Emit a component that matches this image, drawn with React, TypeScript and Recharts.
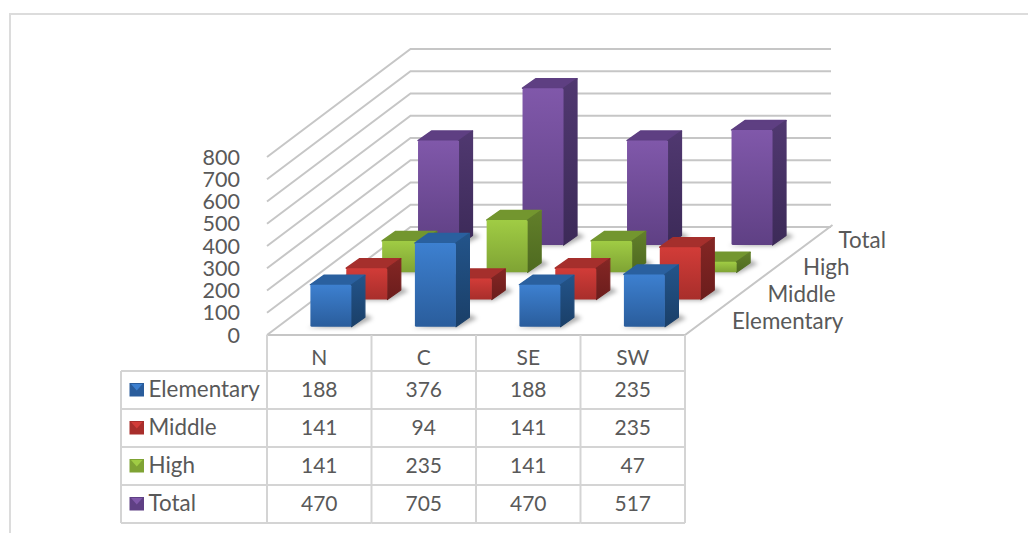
import { Bar, BarChart, CartesianGrid, XAxis, YAxis } from 'recharts';

const categories = ['N', 'C', 'SE', 'SW'];
const seriesNames = ['Elementary', 'Middle', 'High', 'Total'];
const elementary = [188, 376, 188, 235];
const middle = [141, 94, 141, 235];
const high = [141, 235, 141, 47];
const total = [470, 705, 470, 517];
const valueTicks = [0, 100, 200, 300, 400, 500, 600, 700, 800];

const seriesValues = [elementary, middle, high, total];

const palette = [
  { light: '#3d80d0', dark: '#2a5d9c', top: '#2a609f', sideLight: '#23548a', sideDark: '#1a3f68' },
  { light: '#d23c38', dark: '#a82e2b', top: '#a52f2c', sideLight: '#842624', sideDark: '#6b1d1c' },
  { light: '#a0cc44', dark: '#7fa334', top: '#73962f', sideLight: '#627f2a', sideDark: '#4e6a20' },
  { light: '#8058aa', dark: '#5f4084', top: '#5e3f82', sideLight: '#503870', sideDark: '#3c2a58' },
];

const chartData = categories.map((name, i) => {
  const row: Record<string, string | number> = { name };
  seriesNames.forEach((s, j) => {
    row[s] = seriesValues[j][i];
  });
  return row;
});

const WIDTH = 1028;
const HEIGHT = 533;
const PLOT_LEFT = 267;
const PLOT_RIGHT = 685;
const PLOT_TOP = 157;
const FLOOR_Y = 335;
const BAND = (PLOT_RIGHT - PLOT_LEFT) / 4;
const BAR_WIDTH = 41;

// oblique projection of the depth axis
const DEPTH_X = 143.5;
const DEPTH_Y = 108;
const WALL_RIGHT = 831;
const ROW_X = DEPTH_X / 4;
const ROW_Y = 27.2;
const BAR_DEPTH_X = 13.5;
const BAR_DEPTH_Y = 9.5;
const FRONT_SHIFT_X = 11.4;
const FRONT_SHIFT_Y = 8.3;

const TEXT = '#595959';
const FONT = 'Lato, sans-serif';
const LABEL_SIZE = 22.4;
const NUMBER_SIZE = 21;
const LINE = '#d4d4d4';
const GRID = '#c6c6c6';

const TABLE_LEFT = 121;
const ROW_LINES = [371, 409, 447, 485, 523];
const HEADER_Y = 358;

function GridLine(props: any) {
  const { x1, y1, y, height } = props;
  const backX = x1 + DEPTH_X;
  const backY = y1 - DEPTH_Y;
  const isFloor = Math.abs(y1 - (y + height)) < 0.5;
  return (
    <g fill="none" stroke={GRID} strokeWidth={2}>
      <polyline points={`${x1},${y1} ${backX},${backY} ${WALL_RIGHT},${backY}`} />
      {isFloor && (
        <>
          <polyline
            points={`${x1},${y1} ${PLOT_RIGHT},${y1} ${PLOT_RIGHT + DEPTH_X + 4},${y1 - DEPTH_Y - 2}`}
          />
          {seriesNames.map((name, i) => (
            <text
              key={name}
              x={732 + i * 35.5}
              y={321 - i * 27}
              dy="0.35em"
              fill={TEXT}
              stroke="none"
              fontFamily={FONT}
              fontSize={LABEL_SIZE}
            >
              {name}
            </text>
          ))}
        </>
      )}
    </g>
  );
}

// One cuboid, set back on the floor according to its series row
function Cuboid(props: any) {
  const { x, y, width, height, row } = props;
  const c = palette[row];
  const left = x + FRONT_SHIFT_X + row * ROW_X;
  const right = left + width;
  const top = y - FRONT_SHIFT_Y - row * ROW_Y;
  const base = top + height;
  const dx = BAR_DEPTH_X;
  const dy = BAR_DEPTH_Y;
  return (
    <g strokeLinejoin="round">
      <polygon
        points={`${left - 3},${base + 1} ${right + 2},${base + 1} ${right + dx + 8},${base - dy + 1} ${right + dx},${base - dy - 3}`}
        fill="rgba(0,0,0,0.32)"
        filter="url(#barShadow)"
      />
      <polygon
        points={`${left},${top} ${left + dx},${top - dy} ${right + dx},${top - dy} ${right},${top}`}
        fill={c.top}
        stroke={c.top}
        strokeWidth={1.5}
      />
      <polygon
        points={`${right},${top} ${right + dx},${top - dy} ${right + dx},${base - dy} ${right},${base}`}
        fill={`url(#side${row})`}
        stroke={`url(#side${row})`}
        strokeWidth={1.2}
      />
      <rect x={left} y={top} width={width} height={height} rx={1.5} fill={`url(#front${row})`} />
    </g>
  );
}

function LegendKey({ x, y, row }: { x: number; y: number; row: number }) {
  const c = palette[row];
  return (
    <g>
      <rect x={x} y={y} width={14.5} height={13.5} fill={c.dark} />
      <polygon points={`${x + 1.5},${y + 1} ${x + 13},${y + 1} ${x + 7.25},${y + 7.5}`} fill={c.light} />
    </g>
  );
}

// Category label and its column of the data table, hung from the x axis ticks
function TableColumn(props: any) {
  const { x, index, payload } = props;
  const colLeft = x - BAND / 2;
  const colRight = x + BAND / 2;
  const cellText = { fill: TEXT, fontFamily: FONT, fontSize: NUMBER_SIZE, textAnchor: 'middle' as const };
  return (
    <g>
      <line x1={colLeft} y1={FLOOR_Y} x2={colLeft} y2={ROW_LINES[4]} stroke={LINE} strokeWidth={2} />
      {index === categories.length - 1 && (
        <line x1={colRight} y1={FLOOR_Y} x2={colRight} y2={ROW_LINES[4]} stroke={LINE} strokeWidth={2} />
      )}
      {ROW_LINES.map((ly) => (
        <line key={ly} x1={colLeft} y1={ly} x2={colRight} y2={ly} stroke={LINE} strokeWidth={2} />
      ))}
      <text x={x} y={HEADER_Y} dy="0.35em" {...cellText}>
        {payload.value}
      </text>
      {seriesValues.map((values, row) => (
        <text key={row} x={x} y={(ROW_LINES[row] + ROW_LINES[row + 1]) / 2} dy="0.35em" {...cellText}>
          {values[index]}
        </text>
      ))}
      {index === 0 && (
        <g>
          <line x1={TABLE_LEFT} y1={ROW_LINES[0]} x2={TABLE_LEFT} y2={ROW_LINES[4]} stroke={LINE} strokeWidth={2} />
          {ROW_LINES.map((ly) => (
            <line key={ly} x1={TABLE_LEFT} y1={ly} x2={colLeft} y2={ly} stroke={LINE} strokeWidth={2} />
          ))}
          {seriesNames.map((name, row) => {
            const mid = (ROW_LINES[row] + ROW_LINES[row + 1]) / 2;
            return (
              <g key={name}>
                <LegendKey x={129.5} y={mid - 7} row={row} />
                <text x={148.5} y={mid - 1} dy="0.35em" fill={TEXT} fontFamily={FONT} fontSize={LABEL_SIZE}>
                  {name}
                </text>
              </g>
            );
          })}
        </g>
      )}
    </g>
  );
}

export default function App() {
  const drawOrder = [3, 2, 1, 0];
  return (
    <div style={{ position: 'absolute', left: 0, top: 0, width: WIDTH, height: HEIGHT, overflow: 'hidden', background: '#fff' }}>
      <svg width={WIDTH} height={HEIGHT} style={{ position: 'absolute', left: 0, top: 0 }}>
        <polyline points={`${WIDTH},14 10,14 10,${HEIGHT}`} fill="none" stroke="#dcdcdc" strokeWidth={2} />
      </svg>
      <div style={{ position: 'absolute', left: 0, top: 0 }}>
        <BarChart
          width={WIDTH}
          height={HEIGHT}
          data={chartData}
          margin={{ left: PLOT_LEFT - 60, right: WIDTH - PLOT_RIGHT, top: PLOT_TOP, bottom: 0 }}
          barSize={BAR_WIDTH}
          barGap={-BAR_WIDTH}
        >
          <defs>
            {palette.map((c, i) => (
              <g key={i}>
                <linearGradient id={`front${i}`} x1="0" y1="0" x2="0" y2="1">
                  <stop offset="0%" stopColor={c.light} />
                  <stop offset="100%" stopColor={c.dark} />
                </linearGradient>
                <linearGradient id={`side${i}`} x1="0" y1="0" x2="0" y2="1">
                  <stop offset="0%" stopColor={c.sideLight} />
                  <stop offset="100%" stopColor={c.sideDark} />
                </linearGradient>
              </g>
            ))}
            <filter id="barShadow" x="-30%" y="-60%" width="160%" height="220%">
              <feGaussianBlur stdDeviation="2" />
            </filter>
          </defs>
          <CartesianGrid vertical={false} horizontal={(p: any) => <GridLine key={p.key} {...p} />} />
          <XAxis
            dataKey="name"
            axisLine={false}
            tickLine={false}
            height={HEIGHT - FLOOR_Y}
            interval={0}
            tick={(p: any) => <TableColumn {...p} />}
          />
          <YAxis
            width={60}
            domain={[0, 800]}
            ticks={valueTicks}
            interval={0}
            axisLine={false}
            tickLine={false}
            tickMargin={21}
            tick={{ fill: TEXT, fontFamily: FONT, fontSize: 21.5 }}
          />
          {drawOrder.map((row) => (
            <Bar
              key={seriesNames[row]}
              dataKey={seriesNames[row]}
              isAnimationActive={false}
              shape={(p: any) => <Cuboid {...p} row={row} />}
            />
          ))}
        </BarChart>
      </div>
    </div>
  );
}
